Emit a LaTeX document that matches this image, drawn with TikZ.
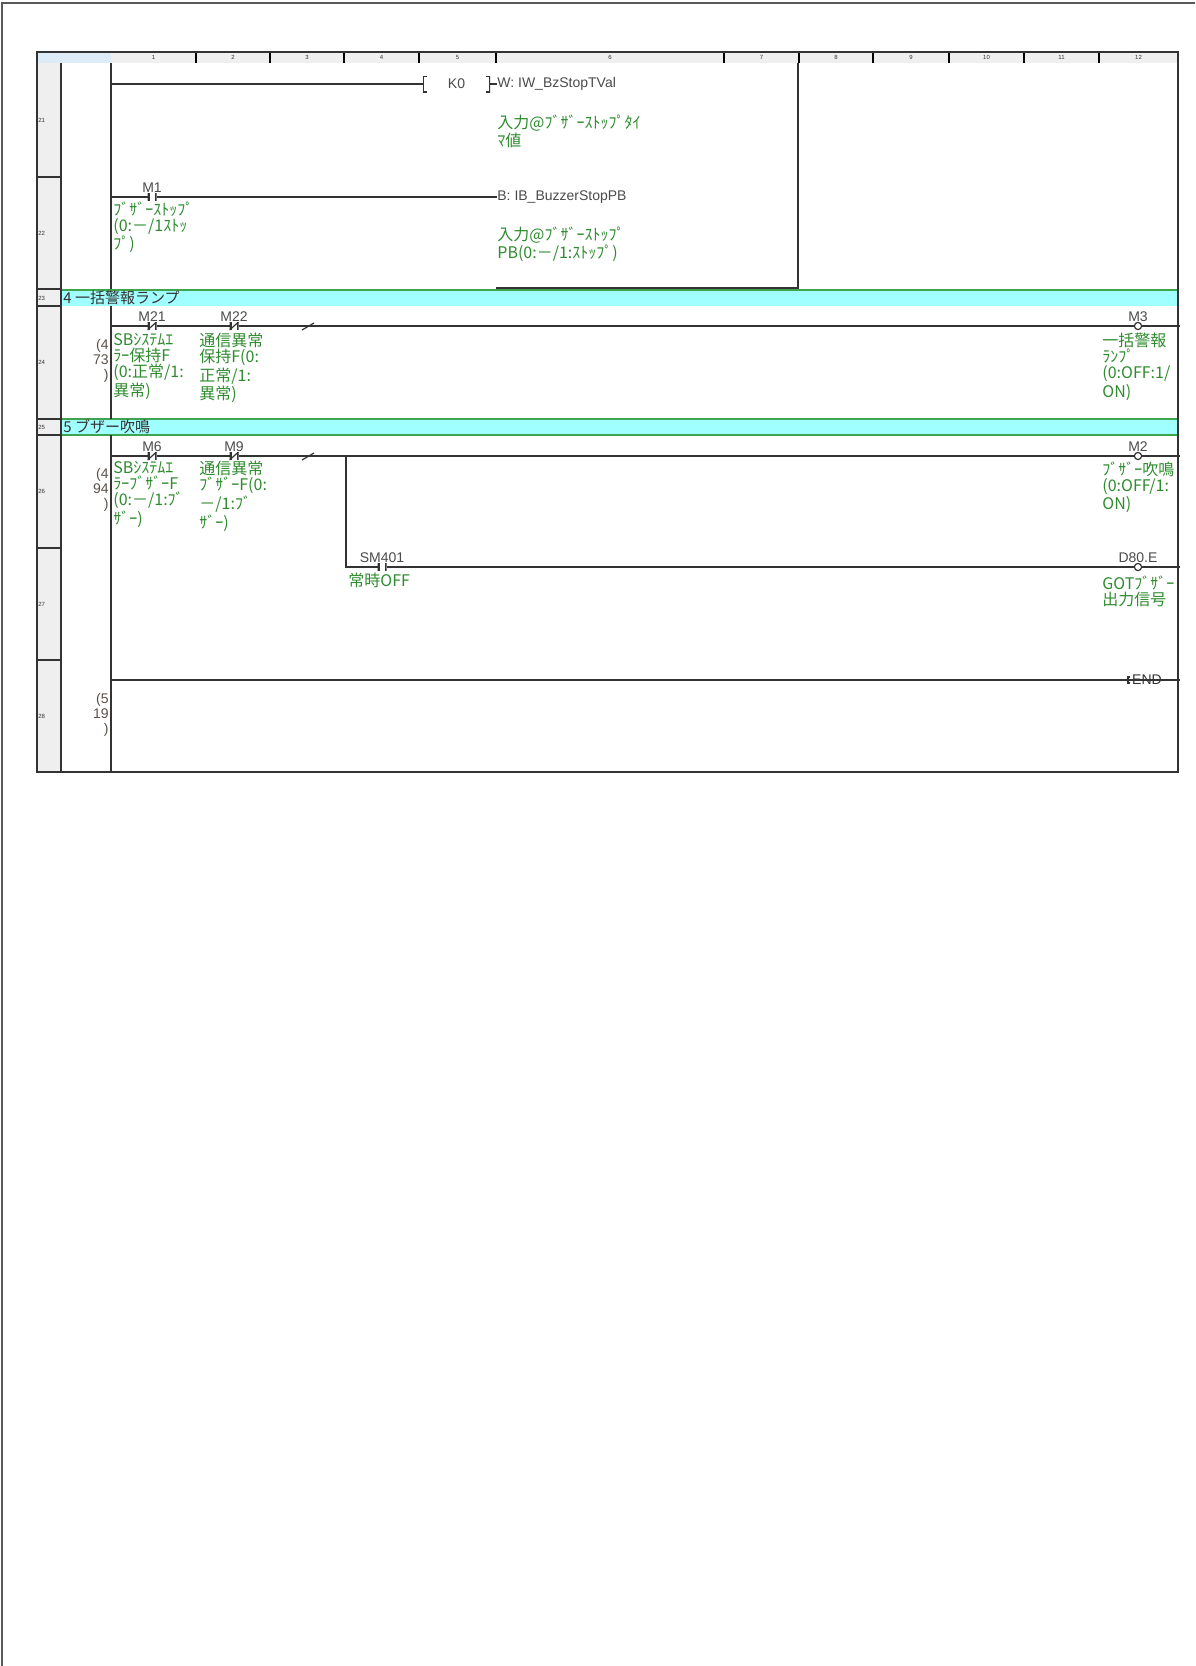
\documentclass[tikz,border=0pt]{standalone}
\usepackage{fontspec}
\setmainfont{Liberation Sans}
\newfontfamily\jp{Noto Sans CJK JP}
\usetikzlibrary{positioning}

\definecolor{ladgray}{HTML}{333333}
\definecolor{devgray}{HTML}{4A4A4A}
\definecolor{stepcol}{HTML}{5A5048}
\definecolor{cmtgreen}{HTML}{2E8B2E}
\definecolor{band}{HTML}{A0FFFF}
\definecolor{bandline}{HTML}{40A34D}
\definecolor{hdrgray}{HTML}{EFEFEF}
\definecolor{hdrblue}{HTML}{DDEBF7}

\tikzset{
  frame/.style={ladgray, line width=.8pt},
  rung/.style={ladgray, line width=.7pt},
  contact/.style={fill=white, inner sep=0pt, outer sep=0pt,
    minimum width=4.5pt, minimum height=4pt,
    path picture={\draw[ladgray, line width=2pt]
      (path picture bounding box.north west) -- (path picture bounding box.south west)
      (path picture bounding box.north east) -- (path picture bounding box.south east);}},
  nccontact/.style={contact,
    path picture={\draw[ladgray, line width=2pt]
      (path picture bounding box.north west) -- (path picture bounding box.south west)
      (path picture bounding box.north east) -- (path picture bounding box.south east);
      \draw[ladgray, line width=.6pt]
      (path picture bounding box.south west) -- (path picture bounding box.north east);}},
  coil/.style={circle, draw=ladgray, fill=white, line width=.6pt, inner sep=0pt, minimum size=3.6pt},
  instr/.style={dev, minimum width=33.5pt, minimum height=8pt,
    path picture={\draw[ladgray, line width=1.4pt]
      ([xshift=2pt]path picture bounding box.north west) -- (path picture bounding box.north west)
      -- (path picture bounding box.south west) -- ([xshift=2pt]path picture bounding box.south west)
      ([xshift=-2pt]path picture bounding box.north east) -- (path picture bounding box.north east)
      -- (path picture bounding box.south east) -- ([xshift=-2pt]path picture bounding box.south east);}},
  dev/.style={font=\fontsize{7}{7}\selectfont, text=devgray, inner sep=0pt},
  cmt/.style={font=\jp\fontsize{8}{8}\selectfont, text=cmtgreen, inner sep=0pt, align=left, anchor=north west},
  stepno/.style={font=\fontsize{7}{7.6}\selectfont, text=stepcol, inner sep=0pt, align=right, anchor=north east},
  sectitle/.style={font=\jp\fontsize{7.5}{7.5}\selectfont, text=ladgray, inner sep=0pt, anchor=west},
  rowno/.style={font=\fontsize{3}{3}\selectfont, text=ladgray, inner sep=0pt, anchor=west},
  colno/.style={font=\fontsize{3}{3}\selectfont, text=ladgray, inner sep=0pt},
}

\begin{document}
\begin{tikzpicture}[x=0.5pt, y=-0.5pt]
    \useasboundingbox (0,0) rectangle (1195,1666);
    %page frame
    \draw[line width=1pt, black!65] (2,1666) -- (2,3) -- (1195,3);

    %header and row number column
    \fill[hdrblue] (37,52) rectangle (111,63);
    \fill[hdrgray] (111,52) rectangle (1178,63);
    \fill[hdrgray] (37,63) rectangle (61,772);
    \foreach \a/\b [count=\i] in {111/196,196/270,270/344,344/419,419/496,496/724,724/799,799/873,873/949,949/1024,1024/1099,1099/1178}{
        \draw[line width=1pt] (\b,52) -- (\b,63);
        \node[colno] (col\i) at ({(\a+\b)/2},57.5) {\i};
    }
    \foreach \n/\y in {21/120,22/233,23/298,24/362,25/427,26/491,27/604,28/716}
        \node[rowno] (row\n) at (38,\y) {\n};

    %section bands
    \fill[band] (61,290) rectangle (1178,306);
    \fill[band] (61,419) rectangle (1178,435);
    \draw[bandline, line width=.8pt] (61,290) -- (1178,290) (61,419) -- (1178,419) (61,435) -- (1178,435);
    \node[sectitle] (sec4) at (63,298) {4 一括警報ランプ};
    \node[sectitle] (sec5) at (63,427) {5 ブザー吹鳴};

    %grid lines
    \draw[frame] (37,52) rectangle (1178,772);
    \draw[frame] (61,63) -- (61,772);
    \foreach \y in {177,289,306,419,435,548,660} \draw[frame] (37,\y) -- (61,\y);

    %left rail and instruction box
    \draw[rung] (111,63) -- (111,289) (111,306) -- (111,419) (111,435) -- (111,772);
    \draw[rung] (798,63) -- (798,288) -- (496,288);

    %rows 21-22
    \coordinate (r21) at (111,84);
    \node[instr] (k0) at (456.5,84) {K0};
    \node[dev, anchor=west] (w21) at (497,84) {W: IW\_BzStopTVal};
    \draw[rung] (r21) -- (k0) -- (w21);
    \node[cmt] (w21c) at (497,114) {入力@ﾌﾞｻﾞｰｽﾄｯﾌﾟﾀｲ\\ﾏ値};

    \coordinate (r22) at (111,197);
    \node[contact, label={[dev, name=m1t]above:M1}] (m1) at (152,197) {};
    \node[dev, anchor=west] (b22) at (497,197) {B: IB\_BuzzerStopPB};
    \draw[rung] (r22) -- (m1) -- (b22);
    \node[cmt] (m1c) at (113,201) {ﾌﾞｻﾞｰｽﾄｯﾌﾟ\\(0:－/1ｽﾄｯ\\ﾌﾟ)};
    \node[cmt] (b22c) at (497,226) {入力@ﾌﾞｻﾞｰｽﾄｯﾌﾟ\\PB(0:－/1:ｽﾄｯﾌﾟ)};

    %row 24
    \coordinate (r24) at (111,326);
    \coordinate (e24) at (1180,326);
    \node[nccontact, label={[dev, name=m21t]above:M21}] (m21) at (152,326) {};
    \node[nccontact, label={[dev, name=m22t]above:M22}] (m22) at (234,326) {};
    \node[coil, label={[dev, name=m3t]above:M3}] (m3) at (1138,326) {};
    \draw[rung] (r24) -- (m21) -- (m22) -- (m3) -- (e24);
    \draw[rung, line width=.6pt] (302,330) -- (314,323);
    \node[stepno] (s24) at (109,339) {(4\\73\\)};
    \node[cmt] (m21c) at (113,333) {SBｼｽﾃﾑｴ\\ﾗｰ保持F\\(0:正常/1:\\異常)};
    \node[cmt] (m22c) at (199,333) {通信異常\\保持F(0:\\正常/1:\\異常)};
    \node[cmt] (m3c) at (1102,333) {一括警報\\ﾗﾝﾌﾟ\\(0:OFF:1/\\ON)};

    %rows 26-27
    \coordinate (r26) at (111,456);
    \coordinate (e26) at (1180,456);
    \coordinate (b26) at (346,456);
    \coordinate (e27) at (1180,567);
    \node[nccontact, label={[dev, name=m6t]above:M6}] (m6) at (152,456) {};
    \node[nccontact, label={[dev, name=m9t]above:M9}] (m9) at (234,456) {};
    \node[coil, label={[dev, name=m2t]above:M2}] (m2) at (1138,456) {};
    \draw[rung] (r26) -- (m6) -- (m9) -- (m2) -- (e26);
    \draw[rung, line width=.6pt] (302,460) -- (314,453);
    \node[contact, label={[dev, name=sm401t]above:SM401}] (sm401) at (382,567) {};
    \node[coil, label={[dev, name=d80et]above:D80.E}] (d80e) at (1138,567) {};
    \draw[rung] (b26) |- (sm401) -- (d80e) -- (e27);
    \node[stepno] (s26) at (109,468) {(4\\94\\)};
    \node[cmt] (m6c) at (113,461) {SBｼｽﾃﾑｴ\\ﾗｰﾌﾞｻﾞｰF\\(0:－/1:ﾌﾞ\\ｻﾞｰ)};
    \node[cmt] (m9c) at (199,461) {通信異常\\ﾌﾞｻﾞｰF(0:\\－/1:ﾌﾞ\\ｻﾞｰ)};
    \node[cmt] (m2c) at (1102,461) {ﾌﾞｻﾞｰ吹鳴\\(0:OFF/1:\\ON)};
    \node[cmt] (sm401c) at (348,573) {常時OFF};
    \node[cmt] (d80ec) at (1102,575) {GOTﾌﾞｻﾞｰ\\出力信号};

    %row 28
    \coordinate (r28) at (111,680);
    \coordinate (e28) at (1180,680);
    \draw[rung] (r28) -- (e28);
    \node[dev, text=ladgray] (end) at (1147,680) {END};
    \draw[rung] ([xshift=-2pt]end.west) ++(1pt,-3) -- ++(-1pt,0) -- ++(0,6) -- ++(1pt,0);
    \node[stepno] (s28) at (109,693) {(5\\19\\)};
\end{tikzpicture}
\end{document}
